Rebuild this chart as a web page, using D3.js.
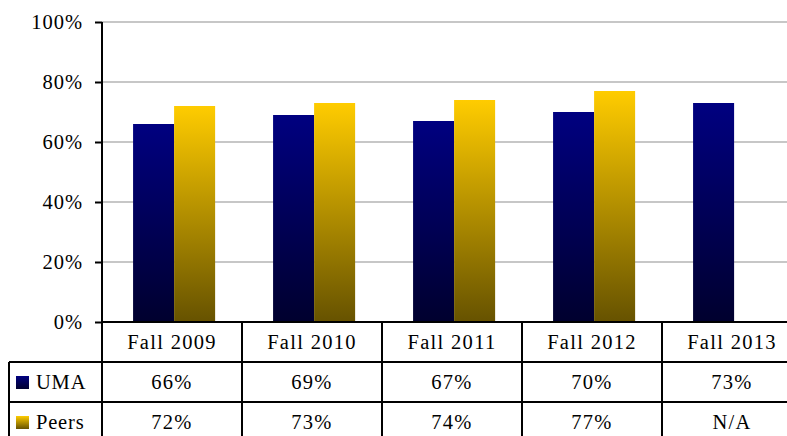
<!DOCTYPE html>
<html><head><meta charset="utf-8">
<script src="https://cdn.jsdelivr.net/npm/d3@7"></script>
<style>html,body{margin:0;padding:0;background:#fff;overflow:hidden}svg{display:block}</style>
</head><body>
<script>
const categories = ["Fall 2009","Fall 2010","Fall 2011","Fall 2012","Fall 2013"];
const seriesNames = ["UMA","Peers"];
const umaValues = [66,69,67,70,73];
const peersValues = [72,73,74,77,null];
const yTicks = [0,20,40,60,80,100];

(function(){
const W=787,H=436;
const FONT="Liberation Serif";
const svg=d3.select("body").append("svg").attr("width",W).attr("height",H);
const defs=svg.append("defs");
const grads=[{id:"gUMA",c0:"#000080",c1:"#00002e"},{id:"gPeers",c0:"#ffcc00",c1:"#665200"}];
grads.forEach(g=>{
  const lg=defs.append("linearGradient").attr("id",g.id).attr("x1",0).attr("y1",0).attr("x2",0).attr("y2",1);
  lg.append("stop").attr("offset","0%").attr("stop-color",g.c0);
  lg.append("stop").attr("offset","100%").attr("stop-color",g.c1);
});
const fills={UMA:"url(#gUMA)",Peers:"url(#gPeers)"};
const mLeft=102, mRight=802, mTop=22, mBottom=322, rowH=40, tableLeft=9;
const y=d3.scaleLinear().domain([0,100]).range([mBottom,mTop]);
const x=d3.scaleBand().domain(categories).range([mLeft,mRight]).padding(0);
const bw=x.bandwidth();
const x1=d3.scaleBand().domain(seriesNames).range([bw*0.222,bw*0.808]).padding(0);

svg.append("g").selectAll("line").data(yTicks.filter(d=>d>0)).join("line")
  .attr("x1",mLeft).attr("x2",mRight).attr("y1",d=>y(d)).attr("y2",d=>y(d))
  .attr("stroke","#b4b4b4").attr("stroke-width",1.5);

const data=categories.map((c,i)=>({cat:c,vals:[{s:"UMA",v:umaValues[i]},{s:"Peers",v:peersValues[i]}]}));
const g=svg.append("g").selectAll("g").data(data).join("g").attr("transform",d=>`translate(${x(d.cat)},0)`);
g.selectAll("rect").data(d=>d.vals.filter(v=>v.v!=null)).join("rect")
  .attr("x",d=>x1(d.s)).attr("width",x1.bandwidth())
  .attr("y",d=>y(d.v)).attr("height",d=>y(0)-y(d.v)).attr("fill",d=>fills[d.s]);

const yAxis=d3.axisLeft(y).tickValues(yTicks).tickFormat(d=>d+"%").tickSize(7).tickPadding(12);
const ya=svg.append("g").attr("transform",`translate(${mLeft},0)`).call(yAxis);
ya.attr("font-family",FONT).attr("font-size",20);
ya.select(".domain").attr("stroke","#000").attr("stroke-width",2).attr("d",`M0,${mTop}V${mBottom}`);
ya.selectAll(".tick line").attr("stroke","#000").attr("stroke-width",2);
ya.selectAll(".tick text").attr("font-family",FONT).attr("font-size",20.5).attr("fill","#000").attr("letter-spacing",1).attr("dy","0.33em");

const t=svg.append("g").attr("stroke","#000").attr("stroke-width",2);
t.append("line").attr("x1",mLeft).attr("x2",mRight).attr("y1",mBottom).attr("y2",mBottom);
[1,2].forEach(r=>t.append("line").attr("x1",tableLeft).attr("x2",mRight).attr("y1",mBottom+r*rowH).attr("y2",mBottom+r*rowH));
t.append("line").attr("x1",tableLeft).attr("x2",tableLeft).attr("y1",mBottom+rowH).attr("y2",H);
categories.forEach(c=>t.append("line").attr("x1",x(c)).attr("x2",x(c)).attr("y1",mBottom).attr("y2",H));
t.append("line").attr("x1",mRight).attr("x2",mRight).attr("y1",mBottom).attr("y2",H);

const txt=svg.append("g");
const style=s=>s.attr("font-family",FONT).attr("font-size",20.5).attr("fill","#000").attr("letter-spacing",1.3);
txt.selectAll("text.cat").data(categories).join("text").attr("class","cat").call(style)
  .attr("x",d=>x(d)+bw/2).attr("y",mBottom+rowH/2).attr("dy","0.36em").attr("text-anchor","middle").text(d=>d);
const rows=[{name:"UMA",vals:umaValues},{name:"Peers",vals:peersValues}];
rows.forEach((r,ri)=>{
  const cy=mBottom+rowH*(ri+1)+rowH/2;
  txt.append("g").selectAll("text").data(categories).join("text").call(style)
    .attr("x",d=>x(d)+bw/2).attr("y",cy).attr("dy","0.36em").attr("text-anchor","middle")
    .text((d,i)=>r.vals[i]==null?"N/A":r.vals[i]+"%");
  svg.append("rect").attr("x",16).attr("y",cy-6).attr("width",13).attr("height",13).attr("fill",fills[r.name]);
  txt.append("text").call(style).attr("x",36).attr("y",cy).attr("dy","0.36em").attr("letter-spacing",0.8).text(r.name);
});
})();
</script>
</body></html>
